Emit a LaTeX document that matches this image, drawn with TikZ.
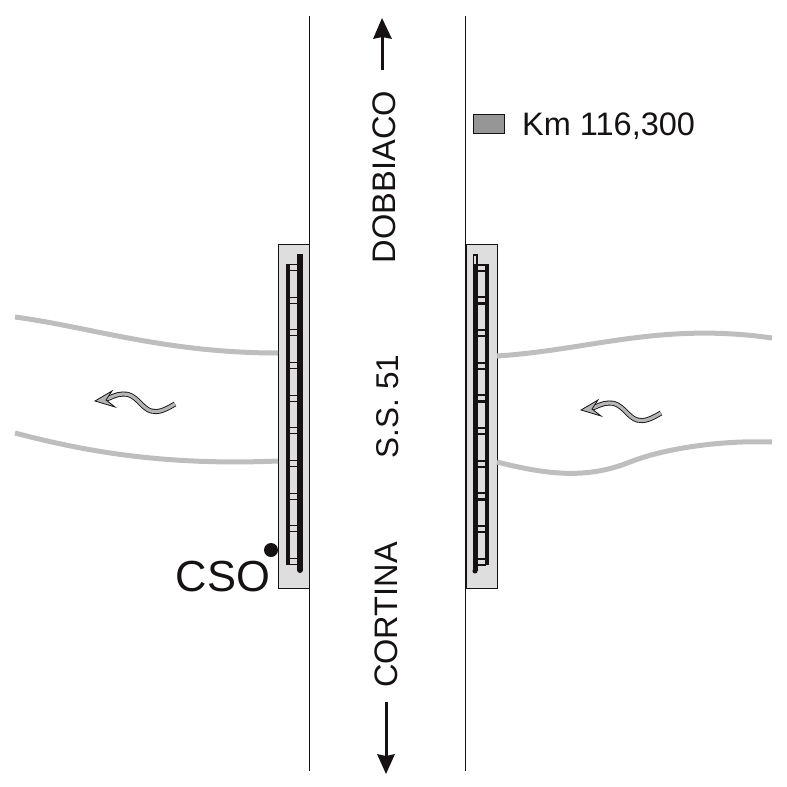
\documentclass[tikz,border=0pt]{standalone}
\usepackage{fontspec}
\setmainfont{Liberation Sans}
\definecolor{abutment}{HTML}{DEDEDE}
\definecolor{stream}{HTML}{BEBEBE}
\definecolor{legendgray}{HTML}{969696}
\definecolor{ink}{HTML}{161214}
\tikzset{
  road/.style={draw=ink,line width=1pt},
  abut/.style={draw=ink,fill=abutment,line width=0.9pt},
  riverbank/.style={draw=stream,line width=5pt},
  rail/.style={fill=ink},
  label/.style={inner sep=0pt,text=ink},
  flowarrow/.pic={
    \draw[ink,line width=5pt] (175,404) .. controls (165,410) and (158,413) .. (151,411)
      .. controls (141,408) and (136,393) .. (123,394) .. controls (116,394) and (110,398) .. (104,400);
    \draw[legendgray!70,line width=3.2pt] (175,404) .. controls (165,410) and (158,413) .. (151,411)
      .. controls (141,408) and (136,393) .. (123,394) .. controls (116,394) and (110,398) .. (104,400);
    \draw[ink,fill=legendgray!70,line width=0.8pt] (95,401) -- (112,391) -- (106,400) -- (115,407) -- cycle;
  }
}
\begin{document}
\begin{tikzpicture}[x=1pt,y=-1pt]
  \useasboundingbox (0,0) rectangle (787,787);
  % abutments
  \filldraw[abut] (278,244) rectangle (309,588);
  \filldraw[abut] (466,244) rectangle (497,588);
  % road edges
  \draw[road] (309,16) -- (309,771);
  \draw[road] (465,16) -- (465,771);
  % streams
  \draw[riverbank] (15,317) .. controls (90,327) and (165,353) .. (278,353);
  \draw[riverbank] (15,433) .. controls (80,450) and (160,466) .. (278,461);
  \draw[riverbank] (497,356) .. controls (590,350) and (660,322) .. (772,338);
  \draw[riverbank] (497,462) .. controls (545,474) and (585,480) .. (630,462)
    .. controls (660,450) and (715,440) .. (772,442);
  % left bridge
  \fill[rail] (286,264) rectangle (290,565);
  \fill[rail] (297,254) rectangle (303,570);
  \fill[rail] (300,570) circle (3);
  \foreach \k in {0,...,9}
    \draw[ink,line width=1.1pt] (288,{264.5+32.67*\k}) -- (298,{264.5+32.67*\k})
      (288,{270.5+32.67*\k}) -- (298,{270.5+32.67*\k});
  % right bridge
  \fill[rail] (472.5,254) rectangle (477.6,571);
  \fill[rail] (475,571) circle (2.55);
  \fill[abutment] (474.2,255.7) rectangle (475.6,264);
  \fill[rail] (475.3,264) rectangle (478,565);
  \fill[rail] (485,264) rectangle (489,565);
  \foreach \k in {0,...,9} {
    \fill[rail] (477,{263.5+32.67*\k}) rectangle (486,{265.5+32.67*\k});
    \fill[rail] (477,{269.5+32.67*\k}) rectangle (486,{272+32.67*\k});
  }
  % direction arrows
  \draw[ink,line width=3pt] (382,70) -- (382,36);
  \fill[ink] (382,18) -- (392,39) -- (382,37) -- (373,39) -- cycle;
  \draw[ink,line width=3pt] (386,702) -- (386,757);
  \fill[ink] (386,774) -- (377,754) -- (386,756) -- (395,754) -- cycle;
  % flow arrows
  \pic at (0,0) {flowarrow};
  \pic at (486,9) {flowarrow};
  % labels
  \node[label,rotate=90] (dobbiaco) at (384,177) {\fontsize{32.6}{36}\selectfont DOBBIACO};
  \node[label,rotate=90] (ss) at (388,406.5) {\fontsize{31.5}{36}\selectfont S.S. 51};
  \node[label,rotate=90] (cortina) at (386,615) {\fontsize{32.5}{36}\selectfont CORTINA};
  \node[label] (cso) at (223,577) {\fontsize{43.5}{48}\selectfont CSO};
  \node[label,anchor=west] (km) at (522,126) {\fontsize{32.5}{36}\selectfont Km 116,300};
  % legend and station
  \filldraw[draw=ink,fill=legendgray,line width=0.8pt] (473,114) rectangle (504,133);
  \fill[ink] (271,550) circle (7);
\end{tikzpicture}
\end{document}
